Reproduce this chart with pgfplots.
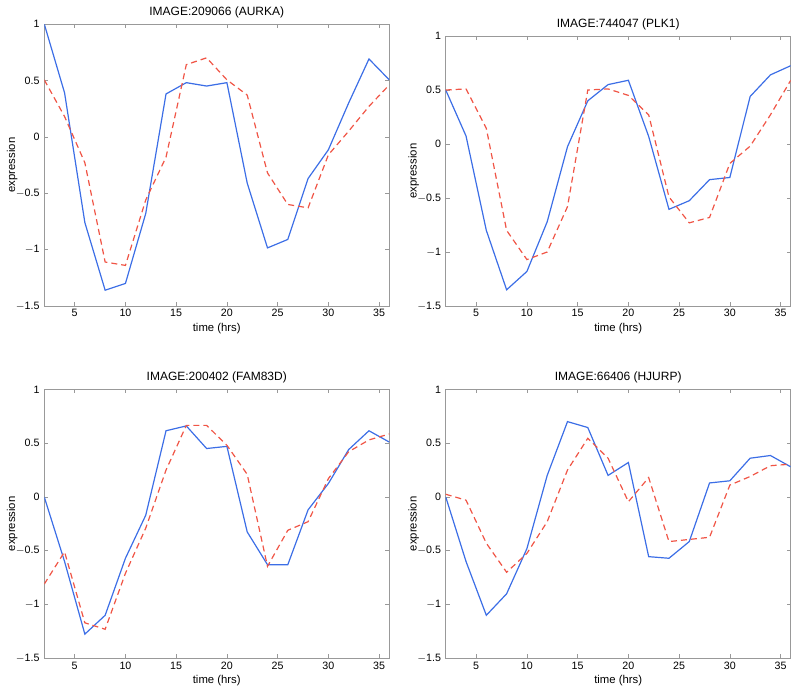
\documentclass[border=0pt]{standalone}
\usepackage{pgfplots}
\pgfplotsset{compat=1.18}
\usepackage{fontspec}
\setmainfont{Liberation Sans}
\definecolor{mblue}{RGB}{60,110,230}
\definecolor{mred}{RGB}{240,85,70}
\pgfplotsset{
  panel/.style={
    scale only axis, width=258.75pt,
    xmin=2, xmax=36, ymin=-1.5, ymax=1,
    xtick={5,10,...,35}, ytick={-1.5,-1,-0.5,0,0.5,1},
    yticklabels={$-$1.5,$-$1,$-$0.5,0,0.5,1},
    /pgf/number format/assume math mode=true,
    tick align=inside, major tick length=3pt,
    axis line style={gray!80}, every tick/.style={gray!80},
    tick label style={font=\fontsize{8}{9}\selectfont},
    label style={font=\fontsize{8.5}{10}\selectfont},
    title style={font=\fontsize{9}{10}\selectfont, yshift=-5pt},
    xlabel={time (hrs)}, ylabel={expression},
    xlabel style={yshift=2pt}, ylabel style={yshift=-8pt},
    xticklabel style={yshift=1pt},
  },
  sb/.style={mblue, line width=0.9pt},
  sr/.style={mred, line width=0.9pt, dash pattern=on 4.5pt off 3pt},
}
\begin{document}
\begin{tikzpicture}
\path[use as bounding box] (0,0) rectangle (600pt,515.25pt);
% Panel 1
\begin{axis}[panel, at={(33.2pt,285.75pt)}, anchor=south west, height=211.5pt,
  title={IMAGE:209066 (AURKA)}]
\addplot[sb] coordinates {(2,1.0)(4,0.39)(6,-0.76)(8,-1.36)(10,-1.30)(12,-0.68)(14,0.38)(16,0.48)(18,0.45)(20,0.48)(22,-0.41)(24,-0.985)(26,-0.91)(28,-0.37)(30,-0.115)(32,0.30)(34,0.69)(36,0.505)};
\addplot[sr] coordinates {(2,0.505)(4,0.18)(6,-0.23)(8,-1.11)(10,-1.14)(12,-0.56)(14,-0.18)(16,0.64)(18,0.70)(20,0.505)(22,0.37)(24,-0.32)(26,-0.60)(28,-0.63)(30,-0.16)(32,0.05)(34,0.27)(36,0.46)};
\end{axis}
% Panel 2
\begin{axis}[panel, at={(334.3pt,285.75pt)}, anchor=south west, height=202.5pt,
  title={IMAGE:744047 (PLK1)}]
\addplot[sb] coordinates {(2,0.5)(4,0.074)(6,-0.80)(8,-1.35)(10,-1.18)(12,-0.72)(14,-0.025)(16,0.40)(18,0.55)(20,0.59)(22,0.07)(24,-0.605)(26,-0.525)(28,-0.33)(30,-0.31)(32,0.44)(34,0.64)(36,0.725)};
\addplot[sr] coordinates {(2,0.50)(4,0.51)(6,0.145)(8,-0.80)(10,-1.07)(12,-1.00)(14,-0.58)(16,0.50)(18,0.51)(20,0.45)(22,0.27)(24,-0.49)(26,-0.73)(28,-0.68)(30,-0.18)(32,-0.02)(34,0.27)(36,0.59)};
\end{axis}
% Panel 3
\begin{axis}[panel, at={(33.2pt,21.5pt)}, anchor=south west, height=201.75pt,
  title={IMAGE:200402 (FAM83D)}]
\addplot[sb] coordinates {(2,0.0)(4,-0.6)(6,-1.275)(8,-1.10)(10,-0.57)(12,-0.17)(14,0.615)(16,0.66)(18,0.45)(20,0.47)(22,-0.325)(24,-0.63)(26,-0.63)(28,-0.12)(30,0.125)(32,0.44)(34,0.615)(36,0.51)};
\addplot[sr] coordinates {(2,-0.81)(4,-0.51)(6,-1.17)(8,-1.23)(10,-0.71)(12,-0.29)(14,0.25)(16,0.665)(18,0.665)(20,0.48)(22,0.21)(24,-0.645)(26,-0.31)(28,-0.23)(30,0.17)(32,0.42)(34,0.53)(36,0.585)};
\end{axis}
% Panel 4
\begin{axis}[panel, at={(334.3pt,21.5pt)}, anchor=south west, height=201.75pt,
  title={IMAGE:66406 (HJURP)}]
\addplot[sb] coordinates {(2,0.0)(4,-0.60)(6,-1.10)(8,-0.90)(10,-0.48)(12,0.20)(14,0.70)(16,0.645)(18,0.20)(20,0.32)(22,-0.555)(24,-0.57)(26,-0.415)(28,0.13)(30,0.15)(32,0.36)(34,0.385)(36,0.28)};
\addplot[sr] coordinates {(2,0.025)(4,-0.03)(6,-0.43)(8,-0.70)(10,-0.525)(12,-0.23)(14,0.25)(16,0.545)(18,0.36)(20,-0.045)(22,0.18)(24,-0.415)(26,-0.395)(28,-0.375)(30,0.11)(32,0.19)(34,0.29)(36,0.305)};
\end{axis}
\end{tikzpicture}
\end{document}
